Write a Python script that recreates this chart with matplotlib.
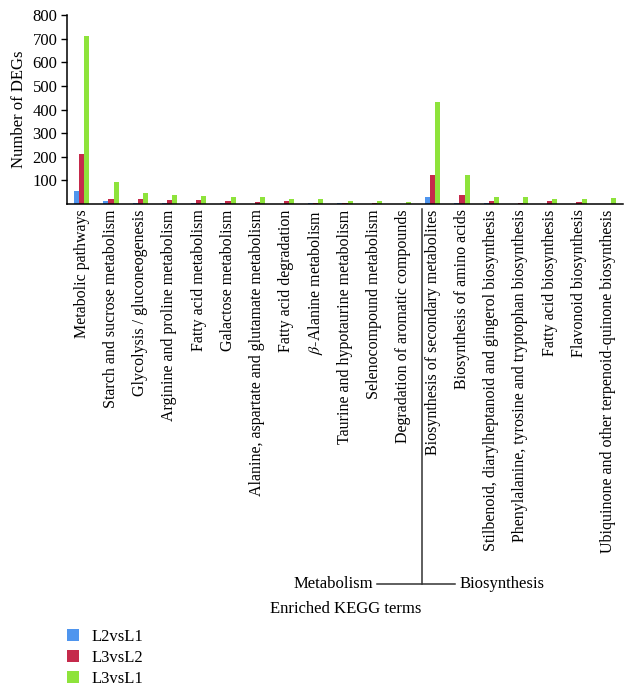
import matplotlib
matplotlib.use("Agg")
import matplotlib.pyplot as plt
import numpy as np
from matplotlib.lines import Line2D
from matplotlib.patches import Patch

categories = [
    "Metabolic pathways",
    "Starch and sucrose metabolism",
    "Glycolysis / gluconeogenesis",
    "Arginine and proline metabolism",
    "Fatty acid metabolism",
    "Galactose metabolism",
    "Alanine, aspartate and glutamate metabolism",
    "Fatty acid degradation",
    r"$\beta$-Alanine metabolism",
    "Taurine and hypotaurine metabolism",
    "Selenocompound metabolism",
    "Degradation of aromatic compounds",
    "Biosynthesis of secondary metabolites",
    "Biosynthesis of amino acids",
    "Stilbenoid, diarylheptanoid and gingerol biosynthesis",
    "Phenylalanine, tyrosine and tryptophan biosynthesis",
    "Fatty acid biosynthesis",
    "Flavonoid biosynthesis",
    "Ubiquinone and other terpenoid-quinone biosynthesis",
]
series_names = ["L2vsL1", "L3vsL2", "L3vsL1"]
l2vsl1 = [55, 13, 3, 3, 3, 3, 1, 1, 2, 3, 1, 0, 31, 5, 3, 1, 1, 1, 0]
l3vsl2 = [213, 21, 21, 18, 18, 13, 6, 10, 3, 5, 5, 0, 124, 38, 14, 3, 10, 8, 0]
l3vsl1 = [712, 94, 48, 38, 32, 28, 28, 22, 22, 10, 14, 7, 430, 123, 28, 30, 20, 20, 25]
yticks = [100, 200, 300, 400, 500, 600, 700, 800]

colors = ["#4f95ee", "#c52a4b", "#8ee33b"]

plt.rcParams['font.family'] = ['Liberation Serif', 'DejaVu Serif']
plt.rcParams['mathtext.fontset'] = 'stix'

fig = plt.figure(figsize=(6.33, 6.91), dpi=100)
ax = fig.add_axes([0.106, 0.705, 0.878, 0.273])

x = np.arange(len(categories))
w = 0.175
for k, (vals, c) in enumerate(zip([l2vsl1, l3vsl2, l3vsl1], colors)):
    ax.bar(x + (k - 1) * w, vals, width=w, color=c, linewidth=0)

ax.set_xlim(-0.5, len(categories) - 0.5)
ax.set_ylim(0, 800)
ax.set_yticks(yticks)
ax.set_yticklabels([str(v) for v in yticks], fontsize=12)
ax.set_xticks(x)
ax.set_xticklabels(categories, rotation=90, fontsize=11.5, va='top', ha='center')
ax.tick_params(axis='x', length=0, pad=4)
ax.tick_params(axis='y', length=4, width=1, direction='out', pad=3)
for s in ['top', 'right']:
    ax.spines[s].set_visible(False)
for s in ['left', 'bottom']:
    ax.spines[s].set_linewidth(1.1)
ax.set_ylabel("Number of DEGs", fontsize=12, labelpad=4)

W, H = 633.0, 691.0
def fx(px):
    return px / W
def fy(py):
    return 1 - py / H

fig.add_artist(Line2D([fx(422), fx(422)], [fy(209), fy(584)], color='#333333', lw=1.1))
fig.add_artist(Line2D([fx(377), fx(455)], [fy(584), fy(584)], color='#333333', lw=1.1))
fig.text(fx(373), fy(584), "Metabolism", ha='right', va='center', fontsize=12)
fig.text(fx(460), fy(584), "Biosynthesis", ha='left', va='center', fontsize=12)
fig.text(fx(346), fy(609), "Enriched KEGG terms", ha='center', va='center', fontsize=12)

handles = [Patch(facecolor=c, edgecolor='none') for c in colors]
fig.legend(handles, series_names, loc='upper left', bbox_to_anchor=(fx(60), fy(622)),
           frameon=False, fontsize=12, handlelength=0.75, handleheight=0.7,
           handletextpad=0.75, labelspacing=0.3, borderaxespad=0)

fig.savefig("out.png", dpi=100)
